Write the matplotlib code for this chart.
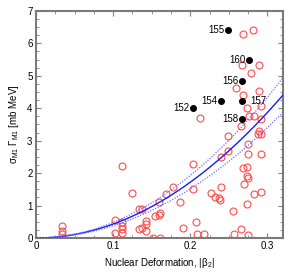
'''M1 strength vs nuclear deformation.'''

import numpy as np
import matplotlib
matplotlib.use('Agg')
import matplotlib.pyplot as plt
from matplotlib.ticker import MultipleLocator

# open circles: (|beta2|, sigma*Gamma)
beta_open = [0.034, 0.034, 0.034, 0.103, 0.103, 0.112, 0.112, 0.112, 0.112, 0.112,
             0.124, 0.134, 0.138, 0.134, 0.137, 0.142, 0.143, 0.142, 0.152, 0.161,
             0.154, 0.159, 0.161, 0.160, 0.168, 0.178, 0.187, 0.190, 0.204, 0.204,
             0.208, 0.209, 0.218, 0.2125, 0.227, 0.232, 0.237, 0.238, 0.240, 0.240,
             0.249, 0.249, 0.255, 0.256, 0.259, 0.266, 0.266, 0.268, 0.268, 0.268,
             0.267, 0.269, 0.274, 0.274, 0.275, 0.274, 0.275, 0.275, 0.275, 0.273,
             0.276, 0.283, 0.279, 0.281, 0.283, 0.289, 0.289, 0.289, 0.288, 0.292,
             0.292, 0.291, 0.292, 0.291]
strength_open = [0.37, 0.23, 0.11, 0.55, 0.14, 2.23, 0.50, 0.37, 0.27, 0.14,
                 1.38, 0.90, 0.90, 0.27, 0.32, 0.52, 0.43, 0.23, 0.01, 0.00,
                 0.67, 0.72, 0.76, 1.10, 1.35, 1.56, 1.12, 0.30, 2.27, 1.50,
                 0.48, 0.12, 0.11, 3.69, 1.40, 1.26, 1.24, 1.17, 1.56, 2.50,
                 2.67, 3.13, 0.83, 0.13, 4.63, 0.28, 3.44, 2.15, 4.40, 6.28,
                 5.33, 1.65, 2.20, 1.90, 1.85, 1.04, 0.08, 2.59, 2.91, 4.00,
                 3.76, 3.76, 5.08, 6.41, 1.35, 5.33, 4.54, 3.31, 3.21, 3.20,
                 4.07, 2.60, 1.41, 3.66]

# Gd isotopes (filled)
beta_gd = [0.204, 0.240, 0.249, 0.267, 0.267, 0.267, 0.276]
strength_gd = [4.00, 4.22, 6.41, 4.85, 4.22, 3.68, 5.49]
labels_gd = ['152', '154', '155', '156', '157', '158', '160']

# quadratic fit  y = a * beta^2  and its band
fit_a = 43.0
fit_a_lo = 37.8
fit_a_hi = 48.2

plt.rcParams['font.family'] = 'Liberation Sans'
plt.rcParams['mathtext.fontset'] = 'custom'
plt.rcParams['mathtext.rm'] = 'Liberation Sans'
plt.rcParams['mathtext.it'] = 'Liberation Sans'
plt.rcParams['mathtext.bf'] = 'Liberation Sans:bold'


def main():
    fig = plt.figure(figsize=(3.0, 2.79), dpi=100)
    ax = fig.add_axes([0.12, 0.147, 0.823, 0.814])

    ax.plot(beta_open, strength_open, 'o', mfc='none', mec='#ff4b4b',
            ms=5.0, mew=0.8, zorder=2)

    b = np.linspace(0, 0.32, 200)
    ax.plot(b, fit_a * b**2, color='#1a1aff', lw=1.0, zorder=3)
    ax.plot(b, fit_a_lo * b**2, color='#7070ff', lw=0.9, ls=(0, (1, 1.2)), zorder=3)
    ax.plot(b, fit_a_hi * b**2, color='#7070ff', lw=0.9, ls=(0, (1, 1.2)), zorder=3)

    ax.plot(beta_gd, strength_gd, 'o', color='black', ms=4.0, zorder=4)
    for x, y, lab in zip(beta_gd, strength_gd, labels_gd):
        if lab == '157':
            ax.annotate(lab, (x, y), xytext=(6, 0), textcoords='offset points',
                        ha='left', va='center', fontsize=7)
        else:
            ax.annotate(lab, (x, y), xytext=(-2.5, 0), textcoords='offset points',
                        ha='right', va='center', fontsize=7)

    ax.set_xlim(0, 0.32)
    ax.set_ylim(0, 7)
    ax.set_xticks([0, 0.1, 0.2, 0.3])
    ax.set_xticklabels(['0', '0.1', '0.2', '0.3'])
    ax.xaxis.set_minor_locator(MultipleLocator(0.025))
    ax.yaxis.set_minor_locator(MultipleLocator(0.25))
    ax.tick_params(which='both', direction='in', top=True, right=True,
                   color='#808080', labelsize=7, pad=2.5)
    ax.tick_params(which='major', length=3.5, width=0.8)
    ax.tick_params(which='minor', length=2, width=0.6)
    for s in ax.spines.values():
        s.set_color('#7a7a7a')
        s.set_linewidth(1.5)

    ax.set_xlabel(r'Nuclear Deformation, |$\mathrm{\beta_2}$|', fontsize=7, labelpad=3)
    ax.set_ylabel(r'$\mathrm{\sigma_{M1}\ \Gamma_{M1}}$ [mb MeV]', fontsize=7, labelpad=4)

    fig.savefig('out.png', dpi=100)


if __name__ == "__main__":
    main()
